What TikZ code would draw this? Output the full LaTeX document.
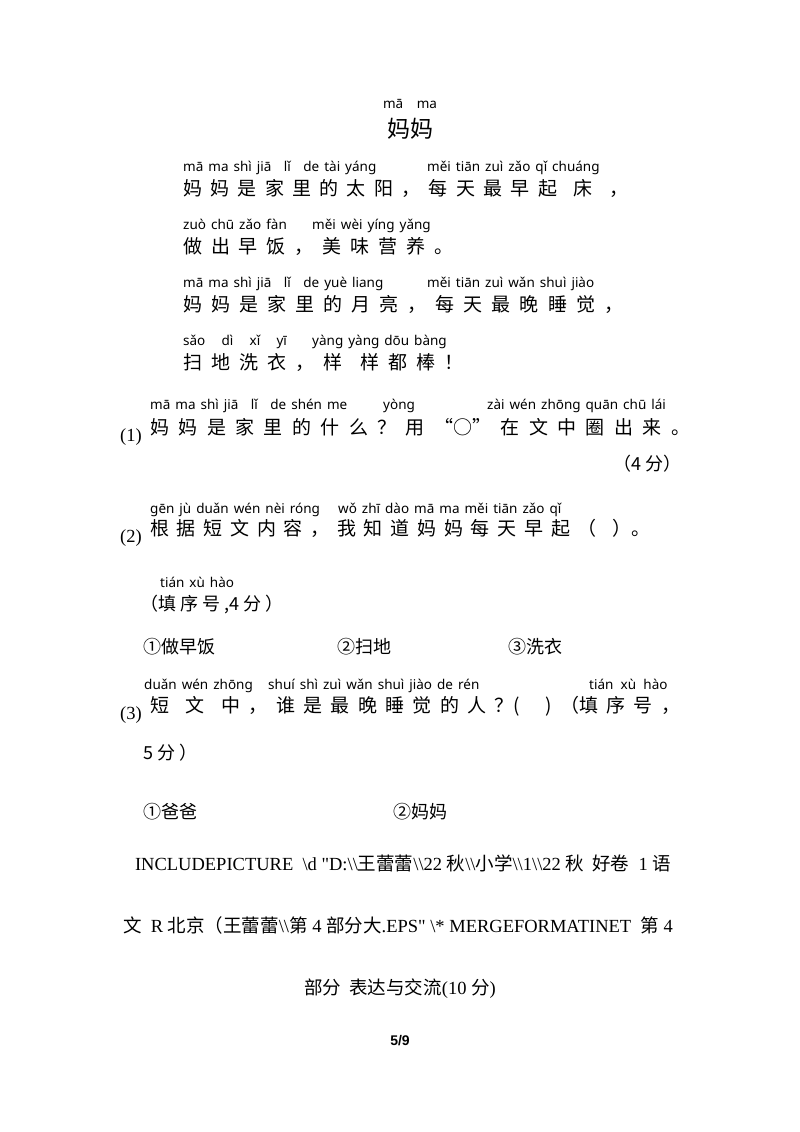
\documentclass[tikz,border=0pt]{standalone}
\usepackage{fontspec}
\setmainfont{Liberation Serif}
\newfontfamily\cjk{Noto Sans CJK SC}
\newfontfamily\py{Noto Sans}
\newfontfamily\lsans{Liberation Sans}
\newcommand{\spbx}[2]{\makebox[#1pt][s]{#2}}
\begin{document}
\begin{tikzpicture}[x=1pt,y=-1pt,
  pin/.style={anchor=base west,inner sep=0,font=\py\fontsize{13.5}{13.5}\selectfont,execute at begin node={\spaceskip=5pt plus 1pt}},
  hz/.style={anchor=base west,inner sep=0,font=\cjk\fontsize{19}{19}\selectfont},
  tx/.style={anchor=base west,inner sep=0,font=\fontsize{18.5}{18.5}\selectfont}]
\useasboundingbox (0,0) rectangle (800,1132);
\fill[white] (0,0) rectangle (800,1132);
\node[pin,anchor=base] (t0) at (410,108) {mā\quad ma};
\node[hz,anchor=base,font=\cjk\fontsize{23}{23}\selectfont] (t1) at (410,137) {妈妈};
% line 1
\node[pin] (p1a) at (183,171) {mā ma shì jiā\;\; lǐ\;\; de tài yáng};
\node[pin] (p1b) at (427,171) {měi tiān zuì zǎo qǐ chuáng};
\node[hz] (h1) at (183,195) {\spbx{445}{妈\hfill 妈\hfill 是\hfill 家\hfill 里\hfill 的\hfill 太\hfill 阳\hfill ，\hfill 每\hfill 天\hfill 最\hfill 早\hfill 起\hfill\hfill 床\hfill\hfill ，}};
% line 2
\node[pin] (p2a) at (183,229) {zuò chū zǎo fàn};
\node[pin] (p2b) at (312,229) {měi wèi yíng yǎng};
\node[hz] (h2) at (183,253) {\spbx{270}{做\hfill 出\hfill 早\hfill 饭\hfill ，\hfill 美\hfill 味\hfill 营\hfill 养\hfill 。}};
% line 3
\node[pin] (p3a) at (183,287) {mā ma shì jiā\;\; lǐ\;\; de yuè liang};
\node[pin] (p3b) at (427,287) {měi tiān zuì wǎn shuì jiào};
\node[hz] (h3) at (183,311) {\spbx{440}{妈\hfill 妈\hfill 是\hfill 家\hfill 里\hfill 的\hfill 月\hfill 亮\hfill ，\hfill 每\hfill 天\hfill 最\hfill 晚\hfill 睡\hfill 觉\hfill ，}};
% line 4
\node[pin] (p4a) at (183,345) {sǎo\;\;\; dì\;\;\; xǐ\;\;\; yī};
\node[pin] (p4b) at (312,345) {yàng yàng dōu bàng};
\node[hz] (h4) at (183,369) {\spbx{280}{扫\hfill 地\hfill 洗\hfill 衣\hfill ，\hfill 样\hfill\hfill 样\hfill 都\hfill 棒\hfill ！}};
% question 1
\node[pin] (q1a) at (150,409) {mā ma shì jiā\;\; lǐ\;\; de shén me};
\node[pin] (q1b) at (383,409) {yòng};
\node[pin] (q1c) at (487,409) {zài wén zhōng quān chū lái};
\node[tx] (n1) at (120,441) {(1)};
\node[hz] (h5) at (150,434) {\spbx{540}{妈\hfill 妈\hfill 是\hfill 家\hfill 里\hfill 的\hfill 什\hfill 么\hfill ？\hfill 用\hfill “○”\hfill 在\hfill 文\hfill 中\hfill 圈\hfill 出\hfill 来\hfill 。}};
\node[tx,anchor=base east,font=\cjk\fontsize{18}{18}\selectfont] (s1) at (682,470) {（4 分）};
% question 2
\node[pin] (q2a) at (150,513) {gēn jù duǎn wén nèi róng};
\node[pin] (q2b) at (338,513) {wǒ zhī dào mā ma měi tiān zǎo qǐ};
\node[tx] (n2) at (120,542) {(2)};
\node[hz] (h6) at (150,535) {\spbx{500}{根\hfill 据\hfill 短\hfill 文\hfill 内\hfill 容\hfill ，\hfill 我\hfill 知\hfill 道\hfill 妈\hfill 妈\hfill 每\hfill 天\hfill 早\hfill 起\hfill （\hfill\hfill ）。}};
\node[pin] (q2c) at (160,587) {tián xù hào};
\node[hz,font=\cjk\fontsize{18}{18}\selectfont] (h7) at (140,610) {（填 序 号 ,4 分 ）};
\node[hz,font=\cjk\fontsize{18}{18}\selectfont] (o1) at (143,653) {①做早饭};
\node[hz,font=\cjk\fontsize{18}{18}\selectfont] (o2) at (337,653) {②扫地};
\node[hz,font=\cjk\fontsize{18}{18}\selectfont] (o3) at (508,653) {③洗衣};
% question 3
\node[pin] (q3a) at (144,689) {duǎn wén zhōng};
\node[pin] (q3b) at (268,689) {shuí shì zuì wǎn shuì jiào de rén};
\node[pin] (q3c) at (589,689) {tián\, xù\, hào};
\node[tx] (n3) at (120,719) {(3)};
\node[hz] (h8) at (150,712) {\spbx{530}{短\hfill\hfill 文\hfill\hfill 中\hfill ，\hfill 谁\hfill 是\hfill 最\hfill 晚\hfill 睡\hfill 觉\hfill 的\hfill 人\hfill ？(\hfill\hfill\hfill )\hfill （填\hfill 序\hfill 号\hfill ，}};
\node[hz,font=\cjk\fontsize{18}{18}\selectfont] (h9) at (143,759) {5 分 ）};
\node[hz,font=\cjk\fontsize{18}{18}\selectfont] (o4) at (143,818) {①爸爸};
\node[hz,font=\cjk\fontsize{18}{18}\selectfont] (o5) at (393,818) {②妈妈};
% include lines
\node[tx,anchor=base] (i1) at (403,870) {INCLUDEPICTURE\ \ \textbackslash d \textquotedbl D:\textbackslash\textbackslash{\cjk 王蕾蕾}\textbackslash\textbackslash 22 {\cjk 秋}\textbackslash\textbackslash{\cjk 小学}\textbackslash\textbackslash 1\textbackslash\textbackslash 22 {\cjk 秋\ \ 好卷}\ \ 1 {\cjk 语}};
\node[tx,anchor=base] (i2) at (398,932) {{\cjk 文}\ \ R {\cjk 北京（王蕾蕾}\textbackslash\textbackslash{\cjk 第} 4 {\cjk 部分大}.EPS\textquotedbl\ \textbackslash* MERGEFORMATINET\ \ {\cjk 第} 4};
\node[tx,anchor=base] (i3) at (400,994) {{\cjk 部分\ \ 表达与交流}(10 {\cjk 分})};
\node[anchor=base,inner sep=0,font=\lsans\bfseries\fontsize{14}{14}\selectfont] (pg) at (400,1045) {5/9};
\end{tikzpicture}
\end{document}
